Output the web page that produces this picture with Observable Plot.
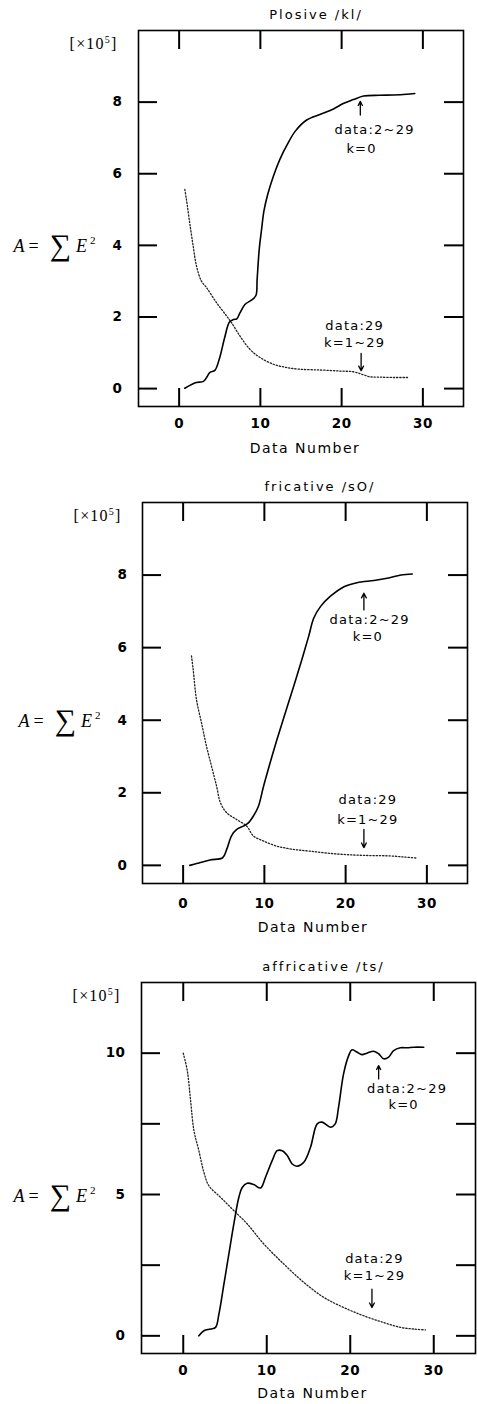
<!DOCTYPE html>
<html><head><meta charset="utf-8">
<script src="https://cdn.jsdelivr.net/npm/d3@7"></script>
<script src="https://cdn.jsdelivr.net/npm/@observablehq/plot@0.6"></script>
<style>
body{margin:0;background:#fff;}
#chart svg{display:block;}
</style></head>
<body><div id="chart"></div>
<script>
// ---- data ----
const xTicks = [0, 10, 20, 30];
const yTicksA = [0, 2, 4, 6, 8];
const yTicksC = [0, 2.5, 5, 7.5, 10];
const yLabelsC = [0, 5, 10];
const titles = ["Plosive /kl/", "fricative /sO/", "affricative /ts/"];
const xLabel = "Data Number";
const unitLabel = "[×10^5]";
const yLabel = "A = ∑ E^2";

// k=0 (solid) and k=1~29 (dotted) curves
const plosiveK0 = [[0.7,0.01],[2.1,0.17],[3.0,0.2],[3.8,0.45],[4.4,0.51],[5.0,0.87],[5.6,1.42],[6.2,1.86],[6.7,1.93],[7.1,1.95],[7.5,2.12],[8.1,2.35],[8.9,2.47],[9.45,2.6],[9.6,3.05],[9.86,3.89],[10.15,4.45],[10.44,4.96],[10.9,5.42],[11.6,5.93],[12.4,6.4],[13.2,6.77],[14.3,7.19],[15.7,7.5],[17.4,7.66],[19.0,7.81],[20.2,7.96],[21.45,8.07],[22.7,8.17],[24.7,8.19],[26.4,8.2],[28.0,8.22],[29.0,8.24]];
const plosiveK1 = [[0.7,5.56],[0.9,5.28],[1.3,4.63],[1.73,3.98],[2.14,3.42],[2.75,3.0],[3.37,2.82],[4.6,2.4],[5.84,2.03],[6.45,1.84],[7.48,1.47],[8.7,1.1],[9.95,0.87],[11.6,0.68],[13.2,0.59],[14.9,0.54],[17.4,0.52],[19.8,0.49],[21.45,0.47],[22.5,0.4],[23.5,0.33],[24.7,0.32],[26.4,0.31],[28.2,0.31]];
const fricativeK0 = [[0.82,0],[1.65,0.05],[3.3,0.15],[4.86,0.21],[5.36,0.44],[5.97,0.82],[6.6,0.99],[7.4,1.08],[8.03,1.17],[8.65,1.36],[9.27,1.63],[9.9,2.18],[10.7,2.82],[11.54,3.46],[12.57,4.2],[13.6,4.93],[14.6,5.66],[15.45,6.31],[16.07,6.81],[16.9,7.13],[18.1,7.41],[19.8,7.68],[21.4,7.79],[23.5,7.85],[25.1,7.91],[26.8,8.0],[28.2,8.03]];
const fricativeK1 = [[1.03,5.77],[1.24,5.39],[1.65,4.56],[2.27,3.92],[2.88,3.28],[3.5,2.73],[4.12,2.18],[4.6,1.72],[5.36,1.45],[6.6,1.26],[7.83,1.08],[8.65,0.81],[9.9,0.67],[11.54,0.53],[13.6,0.44],[15.66,0.39],[18.1,0.33],[20.6,0.29],[23.1,0.27],[25.5,0.26],[27.2,0.23],[28.8,0.2]];
const affricativeK0 = [[1.87,0],[2.47,0.18],[3.27,0.24],[3.87,0.3],[4.27,0.77],[4.87,1.83],[5.46,2.89],[6.06,3.96],[6.66,4.9],[7.06,5.25],[7.66,5.4],[8.45,5.35],[9.25,5.23],[9.85,5.61],[10.65,6.2],[11.25,6.55],[11.85,6.55],[12.45,6.38],[13.05,6.08],[13.64,6.0],[14.44,6.14],[15.24,6.67],[16.04,7.5],[16.63,7.56],[17.63,7.38],[18.2,7.5],[18.6,8.09],[19.2,9.27],[19.82,9.92],[20.2,10.12],[20.8,10.04],[21.4,9.95],[22.0,10.0],[22.8,10.07],[23.4,9.98],[24.0,9.8],[24.6,9.86],[25.2,10.09],[26.0,10.19],[26.8,10.19],[27.6,10.21],[28.8,10.21]];
const affricativeK1 = [[0,10.0],[0.48,9.39],[0.88,8.32],[1.28,7.26],[1.87,6.55],[2.47,5.79],[3.07,5.31],[4.47,4.9],[6.06,4.43],[7.66,3.96],[9.65,3.25],[12.04,2.54],[14.44,1.89],[16.83,1.36],[19.23,1.0],[21.6,0.71],[24.0,0.47],[26.0,0.3],[27.6,0.24],[29.0,0.21]];

// annotation labels and arrows (data coordinates)
const plosiveNotes = [{x:24.05,y:7.24,t:"data:2~29"},{x:22.45,y:6.69,t:"k=0"},{x:21.6,y:1.76,t:"data:29"},{x:21.6,y:1.29,t:"k=1~29"}];
const plosiveArrows = [{x1:22.3,y1:7.64,x2:22.3,y2:8.02},{x1:22.4,y1:0.98,x2:22.4,y2:0.5}];
const fricativeNotes = [{x:22.95,y:6.76,t:"data:2~29"},{x:22.74,y:6.31,t:"k=0"},{x:22.74,y:1.81,t:"data:29"},{x:22.74,y:1.26,t:"k=1~29"}];
const fricativeArrows = [{x1:22.25,y1:7.04,x2:22.25,y2:7.5},{x1:22.25,y1:0.99,x2:22.25,y2:0.49}];
const affricativeNotes = [{x:26.8,y:8.74,t:"data:2~29"},{x:26.4,y:8.18,t:"k=0"},{x:22.9,y:2.72,t:"data:29"},{x:22.9,y:2.13,t:"k=1~29"}];
const affricativeArrows = [{x1:23.4,y1:9.09,x2:23.4,y2:9.56},{x1:22.6,y1:1.65,x2:22.6,y2:1.0}];

// ---- layout ----
const panels = [
  {title: titles[0], k0: plosiveK0, k1: plosiveK1, notes: plosiveNotes, arrows: plosiveArrows,
   yDomain: [-0.5, 10], yTicks: yTicksA, yLabels: yTicksA,
   height: 465, mt: 30, mb: 59, ml: 138, mr: 14, xPad: 12, yPad: 16, titleDx: 15, xlDy: 46, xlDx: 4, unitDy: 7, ylDx: -125},
  {title: titles[1], k0: fricativeK0, k1: fricativeK1, notes: fricativeNotes, arrows: fricativeArrows,
   yDomain: [-0.5, 10], yTicks: yTicksA, yLabels: yTicksA,
   height: 480, mt: 37, mb: 62, ml: 142, mr: 10, xPad: 15, yPad: 15, titleDx: 15, xlDy: 48, xlDx: 8, unitDy: 7, ylDx: -124},
  {title: titles[2], k0: affricativeK0, k1: affricativeK1, notes: affricativeNotes, arrows: affricativeArrows,
   yDomain: [-0.625, 12.5], yTicks: yTicksC, yLabels: yLabelsC,
   height: 459, mt: 37, mb: 51, ml: 141, mr: 2, xPad: 12, yPad: 16, titleDx: 15, xlDy: 44, xlDx: 4, unitDy: 7, ylDx: -128}
];

const W = 477, TICK = 19;
const chart = document.getElementById("chart");
const noteTexts = new Set([...plosiveNotes, ...fricativeNotes, ...affricativeNotes].map(d => d.t));

for (const p of panels) {
  const plotH = p.height - p.mt - p.mb;
  const plotW = W - p.ml - p.mr;
  const tickStyle = {stroke: "black", strokeOpacity: 1, strokeWidth: 2};
  const svg = Plot.plot({
    width: W, height: p.height,
    marginTop: p.mt, marginBottom: p.mb, marginLeft: p.ml, marginRight: p.mr,
    style: {fontFamily: "DejaVu Sans", background: "white", color: "black"},
    x: {domain: [-5, 35], label: null},
    y: {domain: p.yDomain, label: null},
    marks: [
      Plot.gridX(xTicks, {...tickStyle, insetTop: plotH - TICK + 1}),
      Plot.gridX(xTicks, {...tickStyle, insetBottom: plotH - TICK}),
      Plot.gridY(p.yTicks, {...tickStyle, insetRight: plotW - TICK}),
      Plot.gridY(p.yTicks, {...tickStyle, insetLeft: plotW - TICK}),
      Plot.frame({stroke: "black", strokeWidth: 1.6}),
      Plot.axisX(xTicks, {tickSize: 0, tickPadding: p.xPad, fontSize: 13.5, fontWeight: "bold", fontFamily: "DejaVu Sans"}),
      Plot.axisY(p.yLabels, {tickSize: 0, tickPadding: p.yPad, fontSize: 13.5, fontWeight: "bold", fontFamily: "DejaVu Sans"}),
      Plot.line(p.k1, {x: d => d[0], y: d => d[1], stroke: "#222", strokeWidth: 1.3, strokeDasharray: "1.3,1.9", curve: "catmull-rom"}),
      Plot.line(p.k0, {x: d => d[0], y: d => d[1], stroke: "black", strokeWidth: 1.6, curve: "catmull-rom"}),
      Plot.arrow(p.arrows, {x1: "x1", y1: "y1", x2: "x2", y2: "y2", stroke: "black", strokeWidth: 1.3, headLength: 6, headAngle: 55}),
      Plot.text(p.notes, {x: "x", y: "y", text: "t", fontSize: 13, fontFamily: "DejaVu Sans", fill: "black"}),
      Plot.text([p.title], {text: d => d, frameAnchor: "top", dy: -21, dx: p.titleDx, fontSize: 13, fontFamily: "DejaVu Sans", fill: "black"}),
      Plot.text([xLabel], {text: d => d, frameAnchor: "bottom", dy: p.xlDy, dx: p.xlDx, fontSize: 14, fontFamily: "DejaVu Sans", fill: "black"}),
      Plot.text([unitLabel], {text: d => d, frameAnchor: "top-left", textAnchor: "end", dx: -21, dy: p.unitDy, fontSize: 16, fontFamily: "Liberation Serif", fill: "black"}),
      Plot.text([yLabel], {text: d => d, frameAnchor: "left", textAnchor: "start", dx: p.ylDx, dy: 28, fontSize: 18, fontFamily: "Liberation Serif", fill: "black"})
    ]
  });
  // per-text styling and rich formatting for the math labels
  d3.select(svg).selectAll("text").each(function() {
    const t = d3.select(this);
    const s = this.textContent;
    if (s === unitLabel) {
      t.text("").attr("letter-spacing", 1.2);
      t.append("tspan").text("[×10");
      t.append("tspan").attr("dy", -6).attr("font-size", 10).text("5");
      t.append("tspan").attr("dy", 6).text("]");
    } else if (s === yLabel) {
      t.text("");
      t.append("tspan").attr("font-style", "italic").text("A");
      t.append("tspan").attr("dx", 4).text("=");
      t.append("tspan").attr("dx", 11).attr("dy", 3).attr("font-size", 30).text("∑");
      t.append("tspan").attr("dx", 5).attr("dy", -3).attr("font-style", "italic").text("E");
      t.append("tspan").attr("dx", 3).attr("dy", -8).attr("font-size", 11).text("2");
    } else if (titles.includes(s)) {
      t.attr("letter-spacing", 2);
    } else if (s === xLabel) {
      t.attr("letter-spacing", 1.5);
    } else if (noteTexts.has(s)) {
      t.attr("letter-spacing", 1.2);
    } else if (/^\d+$/.test(s)) {
      t.attr("letter-spacing", 0.5);
    }
  });
  chart.appendChild(svg);
}
</script></body></html>
